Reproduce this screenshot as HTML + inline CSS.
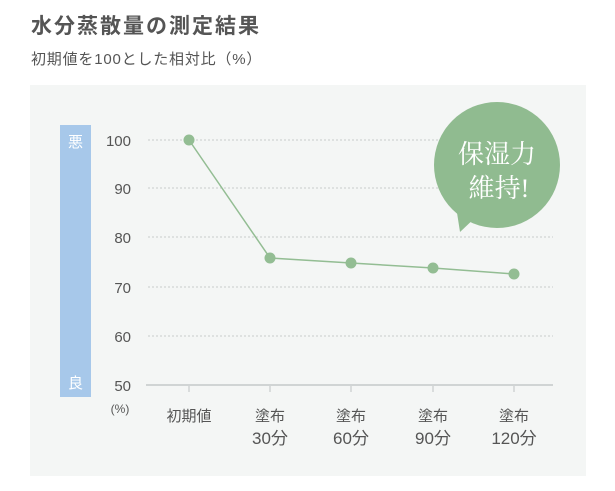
<!DOCTYPE html>
<html><head><meta charset="utf-8"><style>
body{margin:0;width:615px;height:486px;background:#fff;overflow:hidden;font-family:"Liberation Sans","Noto Sans CJK JP",sans-serif;}
</style></head><body>
<svg width="615" height="486" xmlns="http://www.w3.org/2000/svg" font-family="Liberation Sans, Noto Sans CJK JP, sans-serif">
<text x="31" y="33" font-size="21" font-weight="600" fill="#555" letter-spacing="2">水分蒸散量の測定結果</text>
<text x="31" y="64" font-size="15" fill="#555" letter-spacing="0.8">初期値を100とした相対比（%）</text>
<rect x="30" y="85" width="556" height="391" fill="#f4f6f5"/>
<rect x="60" y="125" width="31" height="272" fill="#a7c8ea"/>
<text x="75.5" y="147" font-size="15" fill="#fff" text-anchor="middle">悪</text>
<text x="75.5" y="388" font-size="15" fill="#fff" text-anchor="middle">良</text>
<g stroke="#c8cccc" stroke-width="1" stroke-dasharray="2,2">
<line x1="148" y1="140" x2="553" y2="140"/><line x1="148" y1="188" x2="553" y2="188"/>
<line x1="148" y1="237" x2="553" y2="237"/><line x1="148" y1="287" x2="553" y2="287"/>
<line x1="148" y1="336" x2="553" y2="336"/></g>
<line x1="146" y1="385" x2="553" y2="385" stroke="#d0d4d4" stroke-width="2"/>
<g stroke="#d0d4d4" stroke-width="1.5"><line x1="189" y1="385" x2="189" y2="392"/><line x1="270" y1="385" x2="270" y2="392"/><line x1="351" y1="385" x2="351" y2="392"/><line x1="433" y1="385" x2="433" y2="392"/><line x1="514" y1="385" x2="514" y2="392"/></g>
<g font-size="15" fill="#555" text-anchor="end">
<text x="131" y="146">100</text><text x="131" y="194">90</text><text x="131" y="243">80</text>
<text x="131" y="293">70</text><text x="131" y="342">60</text><text x="131" y="391">50</text></g>
<text x="120" y="413" font-size="12" fill="#555" text-anchor="middle">(%)</text>
<g font-size="15" fill="#555" text-anchor="middle">
<text x="189" y="421">初期値</text>
<text x="270" y="421">塗布</text><text x="270" y="444" font-size="17">30分</text>
<text x="351" y="421">塗布</text><text x="351" y="444" font-size="17">60分</text>
<text x="433" y="421">塗布</text><text x="433" y="444" font-size="17">90分</text>
<text x="514" y="421">塗布</text><text x="514" y="444" font-size="17">120分</text></g>
<polyline points="189,140 270,258 351,263 433,268 514,274" fill="none" stroke="#93bd93" stroke-width="1.5"/>
<g fill="#93bd93"><circle cx="189" cy="140" r="5.5"/><circle cx="270" cy="258" r="5.5"/><circle cx="351" cy="263" r="5.5"/><circle cx="433" cy="268" r="5.5"/><circle cx="514" cy="274" r="5.5"/></g>
<circle cx="497" cy="165" r="63" fill="#90bb90"/>
<polygon points="455,200 478,215 460,232" fill="#90bb90"/>
<g font-family="Liberation Serif, Noto Serif CJK SC, serif" font-size="26" fill="#fff" text-anchor="middle">
<text x="497" y="163">保湿力</text><text x="499" y="197">維持!</text></g>
</svg>
</body></html>
